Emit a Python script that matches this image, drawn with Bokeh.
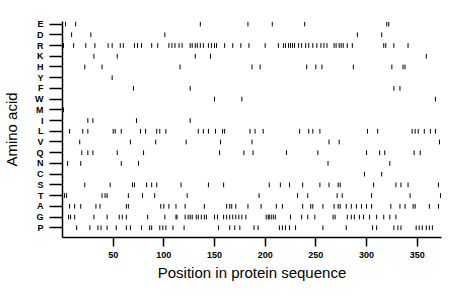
from bokeh.plotting import figure
from bokeh.models import FixedTicker, Range1d, ColumnDataSource
from bokeh.embed import file_html
from bokeh.resources import INLINE

# Amino acids, top row first
amino_acids = ["E", "D", "R", "K", "H", "Y", "F", "W", "M", "I",
               "L", "V", "Q", "N", "C", "S", "T", "A", "G", "P"]

# Residue positions of each amino acid in the sequence
pos_E = [3, 13, 136, 183, 207, 239, 320, 322]
pos_D = [9, 28, 101, 291, 315]
pos_R = [1, 11, 23, 32, 45, 49, 57, 60, 71, 74, 78, 88, 94, 105, 108, 111, 115, 118,
         126, 128, 131, 133, 136, 139, 144, 147, 150, 152, 160, 168, 176, 184, 200,
         213, 218, 220, 223, 225, 227, 229, 233, 236, 240, 243, 247, 251, 255, 258,
         261, 268, 270, 273, 275, 277, 281, 286, 317, 319, 327, 341]
pos_K = [31, 54, 131, 146, 359]
pos_H = [22, 39, 116, 187, 195, 241, 250, 256, 287, 325, 336, 338]
pos_Y = [49]
pos_F = [70, 126, 327, 333]
pos_W = [150, 177, 368]
pos_M = [1]
pos_I = [25, 30, 73, 126]
pos_L = [7, 20, 25, 50, 52, 58, 77, 82, 93, 96, 102, 134, 139, 144, 151, 158, 160,
         185, 190, 198, 234, 243, 247, 254, 301, 311, 345, 348, 351, 357, 363, 368]
pos_V = [17, 67, 92, 122, 156, 187, 263, 273, 372]
pos_Q = [19, 25, 30, 54, 80, 155, 179, 188, 221, 252, 300, 313, 318, 347, 353]
pos_N = [5, 18, 58, 75, 262, 323]
pos_C = [298, 315]
pos_S = [22, 47, 69, 71, 83, 88, 93, 117, 144, 159, 204, 215, 224, 237, 254, 263,
         272, 274, 307, 329, 334, 341, 371]
pos_T = [2, 4, 39, 42, 44, 65, 79, 91, 123, 194, 232, 242, 271, 276, 305, 343, 373]
pos_A = [7, 12, 18, 33, 37, 63, 65, 97, 100, 105, 112, 121, 140, 162, 165, 167, 171,
         183, 196, 211, 217, 237, 245, 247, 257, 268, 272, 274, 280, 285, 290, 295,
         300, 305, 324, 333, 338, 346, 348, 362, 371]
pos_G = [6, 8, 12, 31, 44, 56, 59, 63, 84, 101, 112, 113, 121, 124, 126, 128, 132,
         134, 137, 140, 142, 150, 153, 159, 162, 165, 168, 171, 174, 177, 181, 201,
         203, 204, 206, 208, 210, 225, 236, 242, 249, 267, 269, 281, 285, 288, 293,
         297, 303, 310, 317, 323, 329]
pos_P = [14, 27, 35, 38, 44, 53, 63, 67, 78, 86, 88, 96, 99, 102, 109, 120, 154,
         165, 170, 175, 189, 193, 214, 217, 220, 224, 230, 257, 280, 306, 310, 327,
         331, 334, 349, 352, 355, 359, 362, 365]

x_ticks = [50, 100, 150, 200, 250, 300, 350]

positions = [pos_E, pos_D, pos_R, pos_K, pos_H, pos_Y, pos_F, pos_W, pos_M, pos_I,
             pos_L, pos_V, pos_Q, pos_N, pos_C, pos_S, pos_T, pos_A, pos_G, pos_P]

n = len(amino_acids)
xs, y0s, y1s = [], [], []
half = 0.22
for i, plist in enumerate(positions):
    row = n - 1 - i
    for x in plist:
        xs.append(x)
        y0s.append(row - half)
        y1s.append(row + half)

source = ColumnDataSource(data=dict(x=xs, y0=y0s, y1=y1s))

p = figure(width=444, height=283, output_backend="svg", toolbar_location=None,
           x_range=Range1d(0, 374), y_range=Range1d(-0.91, 19.24),
           min_border_left=59, min_border_right=3, min_border_top=21,
           min_border_bottom=44)
p.outline_line_color = None
p.xgrid.grid_line_color = None
p.ygrid.grid_line_color = None
p.background_fill_color = "white"
p.border_fill_color = "white"

p.segment(x0="x", y0="y0", x1="x", y1="y1", source=source,
          line_color="black", line_width=1)

font = "Liberation Sans"

p.xaxis.ticker = FixedTicker(ticks=x_ticks)
p.xaxis.axis_label = "Position in protein sequence"
p.yaxis.ticker = FixedTicker(ticks=list(range(n)))
p.yaxis.major_label_overrides = {i: amino_acids[n - 1 - i] for i in range(n)}
p.yaxis.axis_label = "Amino acid"

for ax in (p.xaxis[0], p.yaxis[0]):
    ax.axis_line_color = "black"
    ax.axis_line_width = 1.5
    ax.major_tick_line_color = "black"
    ax.major_tick_line_width = 1.5
    ax.minor_tick_line_color = None
    ax.major_tick_in = 0
    ax.major_label_text_font = font
    ax.major_label_text_font_size = "9px"
    ax.major_label_text_font_style = "bold"
    ax.major_label_text_color = "black"
    ax.axis_label_text_font = font
    ax.axis_label_text_font_size = "15px"
    ax.axis_label_text_font_style = "normal"
    ax.axis_label_text_color = "black"

p.yaxis.major_tick_out = 13
p.yaxis.major_label_standoff = 6
p.yaxis.axis_label_standoff = 12
p.xaxis.major_tick_out = 9
p.xaxis.major_label_standoff = 5
p.xaxis.axis_label_standoff = 3

open("out.html", "w").write(file_html(p, INLINE))
